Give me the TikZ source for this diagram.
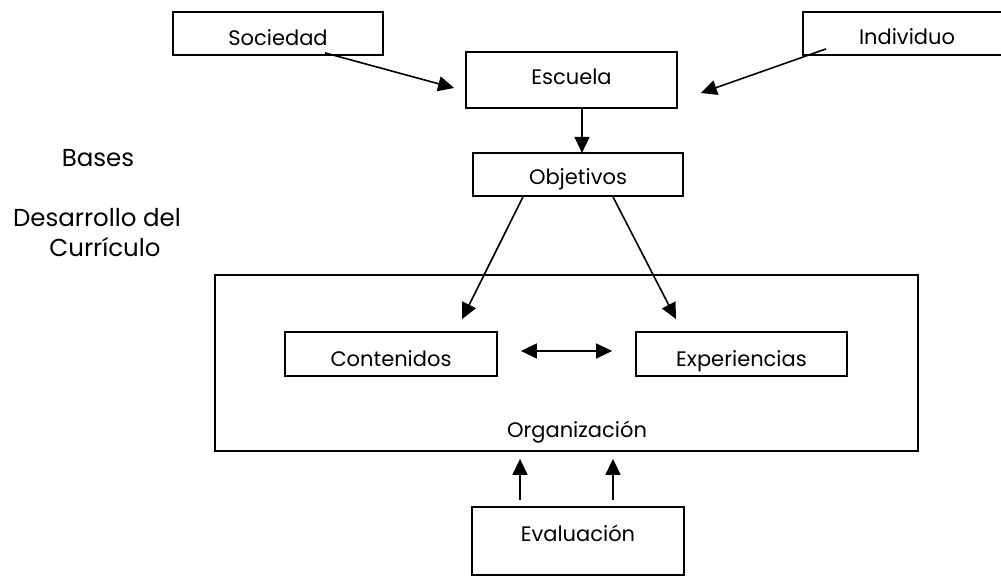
\documentclass[tikz,border=0pt]{standalone}
\usepackage{fontspec}
\setmainfont{Poppins}
\usetikzlibrary{arrows.meta,calc}
\begin{document}
\begin{tikzpicture}[x=1pt,y=-1pt,
  box/.style={draw, line width=1.8pt, inner sep=0pt, font=\fontsize{21}{25}\selectfont, text depth=0pt},
  lbl/.style={font=\fontsize{21}{25}\selectfont, anchor=base, inner sep=0pt},
  side/.style={font=\fontsize{24.5}{29}\selectfont, anchor=base, inner sep=0pt},
  arr/.style={line width=1.6pt, -{Triangle[length=16pt,width=15pt]}},
  darr/.style={line width=1.6pt, {Triangle[length=16pt,width=15pt]}-{Triangle[length=16pt,width=15pt]}}]
\useasboundingbox (0,0) rectangle (1001,577);
\fill[white] (0,0) rectangle (1001,577);
\clip (0,0) rectangle (1001,577);
% boxes
\node[box, minimum width=210pt, minimum height=43pt, text height=24pt] (soc) at (278,33.5) {Sociedad};
\node[box, minimum width=208pt, minimum height=43pt, text height=23pt] (ind) at (907,33.5) {Individuo};
\node[box, minimum width=211pt, minimum height=56pt, text height=10pt] (esc) at (571.5,80) {Escuela};
\node[box, minimum width=210pt, minimum height=43pt, text height=21pt] (obj) at (578,174.5) {Objetivos};
\node[box, minimum width=703pt, minimum height=176pt] (org) at (566.5,363) {};
\node[box, minimum width=212pt, minimum height=44pt, text height=24pt] (con) at (391,354) {Contenidos};
\node[box, minimum width=211pt, minimum height=44pt, text height=24pt] (exp) at (741.5,354) {Experiencias};
\node[box, minimum width=212pt, minimum height=68pt, text height=0pt] (eva) at (578,541) {Evaluación};
% labels
\node[lbl] (orgt) at (577,437) {Organización};
\node[side] (bases) at (98,167) {Bases};
\node[side] (des) at (97,227) {Desarrollo del};
\node[side] (cur) at (105,257) {Currículo};
% connectors
\draw[arr] ($(soc.south)+(47,-3)$) -- ($(esc.west)+(-11,8)$);
\draw[arr] ($(ind.south west)+(24,-7)$) -- ($(esc.east)+(23,13)$);
\draw[arr] ($(esc.south)+(10.5,0)$) -- ($(esc.south)+(10.5,44)$);
\draw[arr] ($(obj.south)+(-55,0)$) -- ($(con.north)+(71,-12)$);
\draw[arr] ($(obj.south)+(35,0)$) -- ($(exp.north)+(-65.5,-12)$);
\draw[darr] ($(con.east)+(23,-3)$) -- ($(exp.west)+(-23,-3)$);
\draw[arr] ($(eva.north)+(-58,-6)$) -- ($(org.south)+(-46.5,7)$);
\draw[arr] ($(eva.north)+(35,-6)$) -- ($(org.south)+(46.5,7)$);
\end{tikzpicture}
\end{document}
